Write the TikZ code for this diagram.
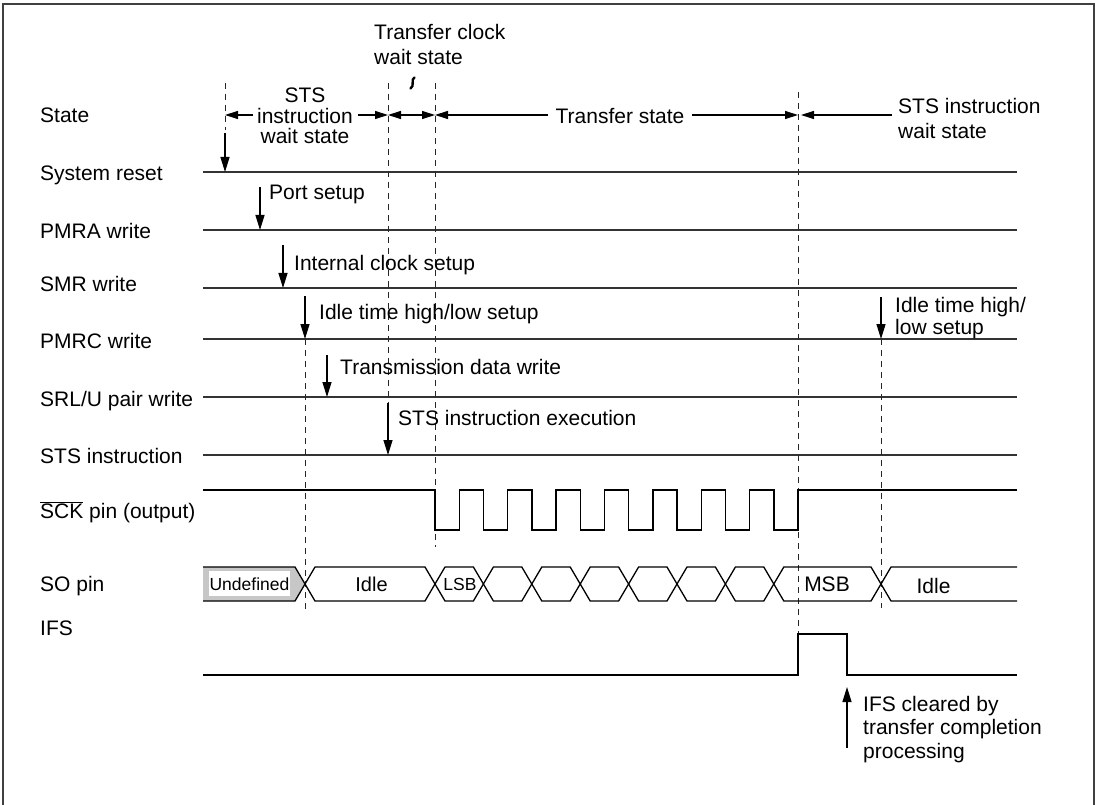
\documentclass[tikz,border=0pt]{standalone}
\usepackage{fontspec}
\setmainfont{Liberation Sans}
\usetikzlibrary{arrows.meta}
\begin{document}
\begin{tikzpicture}[x=1pt,y=-1pt,
  font=\fontsize{21}{24}\selectfont,
  sig/.style={line width=1.3pt, black!80},
  wave/.style={line width=1.4pt, black, line join=miter},
  vdash/.style={line width=0.9pt, dash pattern=on 6pt off 5pt, black!85},
  evarrow/.style={line width=1.3pt, -{Triangle[length=15pt,width=9pt]}},
  stip/.style={line width=1.3pt, -{Triangle[length=13pt,width=8pt]}},
  lbl/.style={anchor=west, inner sep=0pt, text height=15pt, text depth=0pt},
  mlbl/.style={anchor=base west, inner sep=0pt, align=left},
  cell/.style={line width=1.3pt, black},
]
\useasboundingbox (0,0) rectangle (1098,805);
% frame
\draw[line width=2pt, black!75] (3,805) -- (3,4) -- (1094,4) -- (1094,805);

% left labels
\node[lbl] (lState) at (40,115) {State};
\node[lbl] (lRes)   at (40,173) {System reset};
\node[lbl] (lPMRA)  at (40,231) {PMRA write};
\node[lbl] (lSMR)   at (40,284) {SMR write};
\node[lbl] (lPMRC)  at (40,341) {PMRC write};
\node[lbl] (lSRL)   at (40,399) {SRL/U pair write};
\node[lbl] (lSTS)   at (40,456) {STS instruction};
\node[lbl] (lSCK)   at (40,511) {$\overline{\hbox{SCK}}$ pin (output)};
\node[lbl] (lSO)    at (40,584) {SO pin};
\node[lbl] (lIFS)   at (40,628) {IFS};

% horizontal event lines
\foreach \yy/\nm in {172/res,230/pmra,288/smr,339/pmrc,397/srl,455/sts}{
  \draw[sig] (203,\yy) coordinate (\nm-a) -- (1017,\yy) coordinate (\nm-b);
}

% dashed verticals
\draw[vdash] (225,83) -- (225,130);
\draw[vdash] (388,83) -- (388,403);
\draw[vdash] (435,83) -- (435,547);
\draw[vdash] (798,92) -- (798,634);
\draw[vdash] (305,339) -- (305,610);
\draw[vdash] (881,339) -- (881,608);

% event arrows
\draw[evarrow] (225,133) -- (225,172);
\draw[evarrow] (260,187) -- (260,230);
\draw[evarrow] (283,245) -- (283,288);
\draw[evarrow] (305,296) -- (305,339);
\draw[evarrow] (327,355) -- (327,397);
\draw[evarrow] (388,403) -- (388,455);
\draw[evarrow] (881,297) -- (881,339);
\draw[evarrow] (847,748) -- (847,687);

% event texts
\node[lbl] (tPort) at (269,192) {Port setup};
\node[lbl] (tInt)  at (294,263) {Internal clock setup};
\node[lbl] (tIdle) at (319,312) {Idle time high/low setup};
\node[lbl] (tTx)   at (340,367) {Transmission data write};
\node[lbl] (tSTS)  at (398,418) {STS instruction execution};
\node[mlbl, font=\fontsize{21}{22}\selectfont] (tIdle2) at (895,334)
      {Idle time high/\\low setup};
\node[mlbl, font=\fontsize{21}{23.5}\selectfont] (tIFS) at (863,758)
      {IFS cleared by\\transfer completion\\processing};

% state row
\node[align=center, inner sep=0pt, font=\fontsize{21}{20.5}\selectfont] (sWait) at (305,116) {STS\\instruction\\wait state};
\draw[stip] (253,115) -- (225,115);
\draw[stip] (358,115) -- (388,115);
\draw[line width=1.3pt, {Triangle[length=13pt,width=8pt]}-{Triangle[length=13pt,width=8pt]}] (388,115) -- (435,115);
\node[inner sep=0pt] (sTrans) at (620,116) {Transfer state};
\draw[stip] (548,115) -- (435,115);
\draw[stip] (692,115) -- (798,115);
\draw[stip] (892,115) -- (801,115);
\node[mlbl, font=\fontsize{21}{24.5}\selectfont] (sWait2) at (898,138.5) {STS instruction\\wait state};
\node[mlbl, font=\fontsize{21}{24.5}\selectfont] (sClk) at (374,64.5) {Transfer clock\\wait state};
\draw[line width=2.4pt, line cap=round] (414.5,77.5) .. controls (410.5,79) and (415,86) .. (410.5,88.5);

% SCK waveform
\draw[wave] (203,490) -- (435,490)
  -- (435,530) -- (459.2,530) -- (459.2,490) -- (483.4,490)
  -- (483.4,530) -- (507.6,530) -- (507.6,490) -- (531.8,490)
  -- (531.8,530) -- (556,530) -- (556,490) -- (580.2,490)
  -- (580.2,530) -- (604.4,530) -- (604.4,490) -- (628.6,490)
  -- (628.6,530) -- (652.8,530) -- (652.8,490) -- (677,490)
  -- (677,530) -- (701.2,530) -- (701.2,490) -- (725.4,490)
  -- (725.4,530) -- (749.6,530) -- (749.6,490) -- (773.8,490)
  -- (773.8,530) -- (798,530) -- (798,490) -- (1017,490);

% SO pin
\fill[black!22] (203,567) -- (295,567) -- (305,584) -- (295,601) -- (203,601) -- cycle;
\fill[white] (209,571) rectangle (290,596);
\draw[cell] (203,567) -- (295,567) -- (305,584) -- (295,601) -- (203,601);
\node[inner sep=0pt, font=\fontsize{17.5}{20}\selectfont] (soU) at (249.5,584) {Undefined};
\foreach \a/\b in {305/435, 435/483.4, 483.4/531.8, 531.8/580.2, 580.2/628.6, 628.6/677, 677/725.4, 725.4/773.8, 773.8/881}{
  \draw[cell] (\a,584) -- (\a+10,567) -- (\b-10,567) -- (\b,584) -- (\b-10,601) -- (\a+10,601) -- cycle;
}
\draw[cell] (1017,567) -- (891,567) -- (881,584) -- (891,601) -- (1017,601);
\node[inner sep=0pt, font=\fontsize{20}{24}\selectfont] (soI) at (371.5,584) {Idle};
\node[inner sep=0pt, font=\fontsize{17.5}{20}\selectfont] (soL) at (460,584) {LSB};
\node[inner sep=0pt, font=\fontsize{21}{24}\selectfont] (soM) at (827,584) {MSB};
\node[inner sep=0pt, font=\fontsize{21}{24}\selectfont] (soI2) at (933.5,586) {Idle};

% IFS
\draw[wave] (203,675) -- (798,675) -- (798,634) -- (847,634) -- (847,675) -- (1017,675);
\end{tikzpicture}
\end{document}
